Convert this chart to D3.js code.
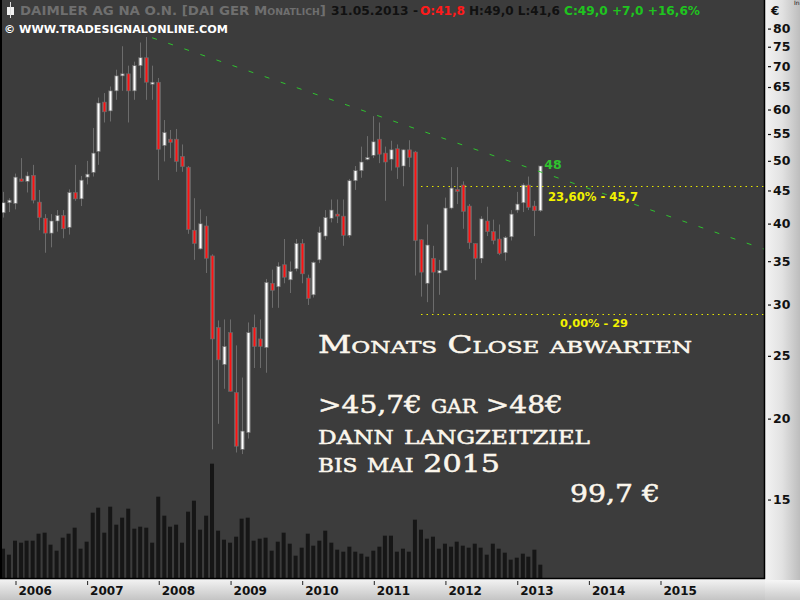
<!DOCTYPE html>
<html><head><meta charset="utf-8">
<script src="https://cdnjs.cloudflare.com/ajax/libs/d3/7.8.5/d3.min.js"></script>
<style>
html,body{margin:0;padding:0;background:#fff;}
svg{display:block;}
</style></head><body>
<svg id="c" width="800" height="600"></svg>
<script>
// ---------- DATA ----------
const months = ["2005-11","2005-12",
"2006-01","2006-02","2006-03","2006-04","2006-05","2006-06","2006-07","2006-08","2006-09","2006-10","2006-11","2006-12",
"2007-01","2007-02","2007-03","2007-04","2007-05","2007-06","2007-07","2007-08","2007-09","2007-10","2007-11","2007-12",
"2008-01","2008-02","2008-03","2008-04","2008-05","2008-06","2008-07","2008-08","2008-09","2008-10","2008-11","2008-12",
"2009-01","2009-02","2009-03","2009-04","2009-05","2009-06","2009-07","2009-08","2009-09","2009-10","2009-11","2009-12",
"2010-01","2010-02","2010-03","2010-04","2010-05","2010-06","2010-07","2010-08","2010-09","2010-10","2010-11","2010-12",
"2011-01","2011-02","2011-03","2011-04","2011-05","2011-06","2011-07","2011-08","2011-09","2011-10","2011-11","2011-12",
"2012-01","2012-02","2012-03","2012-04","2012-05","2012-06","2012-07","2012-08","2012-09","2012-10","2012-11","2012-12",
"2013-01","2013-02","2013-03","2013-04","2013-05"];
const open  = [41.5,43.0, 42.9,46.8,46.4,47.4,43.1,40.7,38.6,40.3,41.1,39.4,44.6,43.6,
 47.1,47.9,51.6,61.5,59.6,64.0,67.5,68.0,64.0,70.0,72.0,66.0,
 66.0,52.7,53.9,53.9,50.7,48.8,39.0,36.5,39.6,35.6,27.6,24.2,
 27.1,21.9,17.9,19.0,27.6,26.5,25.7,32.3,31.9,34.5,32.7,34.0,
 37.2,32.9,31.0,35.1,38.2,40.7,41.3,41.0,38.3,46.5,48.2,50.3,
 50.9,53.9,51.3,50.2,52.1,49.0,51.9,51.5,37.7,32.3,35.3,33.5,
 33.8,42.2,45.1,45.8,42.5,37.2,35.3,40.3,38.8,37.8,36.0,38.1,
 41.9,43.0,45.8,42.5,41.8];
const high  = [44.7,43.7, 47.7,50.4,48.0,49.2,45.0,41.3,41.3,41.9,41.9,45.1,49.2,47.3,
 49.9,56.1,62.5,63.5,65.0,69.0,75.0,70.0,71.0,76.0,77.5,70.0,
 67.0,57.7,55.7,55.9,52.9,49.0,43.7,42.0,41.0,35.8,28.3,28.4,
 28.4,25.9,23.1,28.1,28.9,28.4,32.8,33.9,34.8,37.8,34.9,37.8,
 37.8,33.3,34.9,39.5,41.9,43.5,43.5,43.5,46.8,49.0,52.5,54.5,
 58.5,57.2,52.5,53.6,52.9,52.0,53.7,51.7,37.8,39.8,36.9,35.1,
 43.8,48.8,48.8,46.4,42.8,37.2,41.0,42.4,40.5,39.8,38.2,41.9,
 44.7,46.1,47.2,43.3,49.0];
const low   = [40.8,41.6, 42.0,46.3,44.6,42.9,39.0,36.0,36.7,38.8,37.9,38.4,43.3,42.5,
 45.9,47.2,49.2,57.2,57.4,62.0,64.0,57.2,62.0,67.0,62.0,62.0,
 46.6,49.8,50.4,48.0,48.0,38.5,35.1,36.4,33.5,17.9,19.6,22.2,
 22.0,17.7,17.6,18.6,23.9,23.9,23.5,29.6,29.6,32.3,31.2,33.7,
 32.3,29.9,30.7,34.7,37.7,40.1,40.0,36.9,38.0,45.0,47.0,50.0,
 50.4,49.5,43.3,48.2,46.8,45.6,48.8,33.2,30.8,30.2,29.1,31.0,
 33.8,42.0,42.8,39.2,36.5,32.7,34.7,38.2,37.1,35.7,35.0,37.6,
 41.5,41.6,41.9,38.2,41.6];
const close = [43.0,43.4, 47.1,46.4,47.3,43.4,40.8,38.6,40.3,41.1,39.2,44.6,43.6,46.6,
 47.6,51.3,61.3,59.4,64.0,67.5,68.0,64.0,70.0,72.0,66.0,66.0,
 52.0,55.2,53.3,49.8,48.9,39.1,37.2,39.9,35.3,26.5,24.6,25.8,
 22.0,18.1,19.1,27.1,25.8,25.8,32.4,31.5,34.3,33.0,33.7,37.2,
 33.4,30.6,34.8,38.7,40.8,41.9,41.0,38.3,46.5,48.2,49.7,50.5,
 53.4,51.1,49.7,51.9,48.8,51.9,50.5,37.6,33.6,37.0,33.6,33.8,
 42.2,45.3,44.8,41.7,37.3,35.3,40.6,38.8,37.6,35.9,38.0,41.3,
 42.8,45.8,42.3,41.8,49.0];
const volume = [88,70,112,106,112,112,133,136,100,82,121,133,151,88,109,196,211,136,214,160,181,208,148,154,151,106,
 244,187,154,160,106,199,232,145,187,343,142,115,106,124,178,181,112,118,121,82,109,136,103,67,91,133,97,112,142,106,
 85,79,94,79,73,64,82,94,127,127,79,88,79,175,145,118,124,88,103,94,109,97,91,103,91,70,103,88,76,55,61,73,64,85,40];
const priceTicks = [15,20,25,30,35,40,45,50,55,60,65,70,75,80];
const yearTicks = ["2006","2007","2008","2009","2010","2011","2012","2013","2014","2015"];
// trendline anchors (month, price)
const trendStart = ["2007-12", 77.3];
const trendEnd   = ["2013-05", 48.0];
// Fibonacci retracement
const fibLow = 29, fibHigh = 99.7, fibLevels = [0, 0.236];
const fibStart = "2011-09";

// ---------- SETUP ----------
const W = 800, H = 600;
const P = {l:2, r:764, t:0, b:578};
const svg = d3.select("#c");
const parse = d3.timeParse("%Y-%m");
const data = months.map((m,i)=>({d:parse(m),o:open[i],h:high[i],l:low[i],c:close[i],v:volume[i]}));

const x = d3.scaleTime().domain([new Date(2006,0,1), new Date(2015,0,1)]).range([15,660]);
const y = d3.scaleLog().domain([11.33, 88.4]).range([P.b, P.t]);
const yv = d3.scaleLinear().domain([0,600]).range([P.b, P.b-200]);

const defs = svg.append("defs");
function hgrad(id, stops){
  const g = defs.append("linearGradient").attr("id",id).attr("x1","0").attr("x2","1").attr("y1","0").attr("y2","0");
  stops.forEach(s=>g.append("stop").attr("offset",s[0]).attr("stop-color",s[1]));
}
function vgrad(id, stops){
  const g = defs.append("linearGradient").attr("id",id).attr("x1","0").attr("x2","0").attr("y1","0").attr("y2","1");
  stops.forEach(s=>g.append("stop").attr("offset",s[0]).attr("stop-color",s[1]));
}
hgrad("up",[["0","#7a7a7a"],["0.5","#ffffff"],["1","#7a7a7a"]]);
hgrad("dn",[["0","#7a7a7a"],["0.5","#ff1010"],["1","#7a7a7a"]]);
hgrad("raxis",[["0","#f4f4f4"],["0.5","#e2e2e2"],["1","#bdbdbd"]]);
vgrad("baxis",[["0","#f6f6f6"],["1","#c4c4c4"]]);
const clip = defs.append("clipPath").attr("id","plotclip");
clip.append("rect").attr("x",P.l).attr("y",P.t).attr("width",P.r-P.l).attr("height",P.b-P.t);

// background
svg.append("rect").attr("width",W).attr("height",H).attr("fill","#d8d8d8");
svg.append("rect").attr("x",P.r).attr("y",0).attr("width",W-P.r).attr("height",P.b+2).attr("fill","url(#raxis)");
svg.append("rect").attr("x",0).attr("y",P.b).attr("width",P.r+1).attr("height",H-P.b).attr("fill","url(#baxis)");
svg.append("rect").attr("x",P.r+1).attr("y",P.b+2).attr("width",W-P.r).attr("height",H-P.b).attr("fill","url(#baxis)");
svg.append("rect").attr("x",P.l).attr("y",P.t).attr("width",P.r-P.l).attr("height",P.b-P.t).attr("fill","#3c3c3c");

const plot = svg.append("g").attr("clip-path","url(#plotclip)");

// volume
plot.append("g").selectAll("rect").data(data).join("rect")
  .attr("x",d=>x(d.d)-2).attr("width",4)
  .attr("y",d=>yv(d.v)).attr("height",d=>yv(0)-yv(d.v))
  .attr("fill","#161616");

// wicks
plot.append("g").selectAll("line").data(data).join("line")
  .attr("x1",d=>Math.round(x(d.d))+0.5).attr("x2",d=>Math.round(x(d.d))+0.5)
  .attr("y1",d=>y(d.h)).attr("y2",d=>y(d.l))
  .attr("stroke","#6c6c6c").attr("stroke-width",1);
// bodies
plot.append("g").selectAll("rect").data(data).join("rect")
  .attr("x",d=>Math.round(x(d.d))-1.5).attr("width",4)
  .attr("y",d=>y(Math.max(d.o,d.c)))
  .attr("height",d=>Math.max(2, Math.abs(y(d.o)-y(d.c))))
  .attr("fill",d=>d.c>=d.o?"url(#up)":"url(#dn)")
  .attr("stroke","#6a6a6a").attr("stroke-width",0.6);

// trendline
const t0 = [parse(trendStart[0]), trendStart[1]], t1=[parse(trendEnd[0]), trendEnd[1]];
const slope = (Math.log(t1[1])-Math.log(t0[1]))/(t1[0]-t0[0]);
const tEnd = x.invert(P.r);
const tEndV = Math.exp(Math.log(t0[1]) + slope*(tEnd-t0[0]));
plot.append("line")
  .attr("x1",x(t0[0])).attr("y1",y(t0[1])).attr("x2",x(tEnd)).attr("y2",y(tEndV))
  .attr("stroke","#2fc22f").attr("stroke-width",1).attr("stroke-dasharray","5,12");

// fib lines
const fibVals = fibLevels.map(f=>fibLow + f*(fibHigh-fibLow));
plot.append("g").selectAll("line").data(fibVals).join("line")
  .attr("x1",x(parse(fibStart))).attr("x2",P.r)
  .attr("y1",d=>Math.round(y(d))+0.5).attr("y2",d=>Math.round(y(d))+0.5)
  .attr("stroke","#e8e800").attr("stroke-width",1).attr("stroke-dasharray","1.5,4");

// frame
svg.append("line").attr("x1",P.l-1).attr("x2",P.l-1).attr("y1",0).attr("y2",P.b+1).attr("stroke","#000").attr("stroke-width",2);
svg.append("line").attr("x1",P.r+0.5).attr("x2",P.r+0.5).attr("y1",0).attr("y2",P.b+1).attr("stroke","#000").attr("stroke-width",1.5);
svg.append("line").attr("x1",0).attr("x2",P.r+1).attr("y1",P.b+0.5).attr("y2",P.b+0.5).attr("stroke","#000").attr("stroke-width",1.5);

// right axis
const ra = d3.axisRight(y).tickValues(priceTicks).tickSize(0).tickFormat(d=>d);
const rg = svg.append("g").attr("transform",`translate(${P.r},0)`).call(ra);
rg.select(".domain").remove();
rg.selectAll(".tick text").attr("x",9).attr("dy","0.35em")
  .attr("font-family","DejaVu Sans").attr("font-weight","bold").attr("font-size",12.5).attr("fill","#111")
  .attr("text-anchor","start");
rg.selectAll(".tick").append("line").attr("x1",4).attr("x2",7).attr("y1",0.5).attr("y2",0.5).attr("stroke","#111").attr("stroke-width",1.2);
svg.append("text").attr("x",771).attr("y",15).text("€").attr("font-family","DejaVu Sans").attr("font-weight","bold").attr("font-size",12).attr("fill","#111");
svg.append("text").attr("x",794).attr("y",5).text("In").attr("font-family","DejaVu Sans").attr("font-size",6).attr("fill","#111");

// bottom axis
const ba = d3.axisBottom(x).tickValues(yearTicks.map(s=>new Date(+s,0,1))).tickSize(4).tickFormat(d3.timeFormat("%Y"));
const bg = svg.append("g").attr("transform",`translate(0,${P.b+3})`).call(ba);
bg.select(".domain").remove();
bg.selectAll(".tick line").attr("stroke","#222").attr("transform","translate(0.5,0)");
bg.selectAll(".tick text").attr("text-anchor","start").attr("x",3).attr("y",5).attr("dy","0.75em")
  .attr("font-family","DejaVu Sans").attr("font-weight","bold").attr("font-size",12).attr("fill","#111");

// header
const hdr = svg.append("g").attr("font-family","DejaVu Sans").attr("font-weight","bold").attr("font-size",11.5);
hdr.append("rect").attr("x",7).attr("y",7).attr("width",7).attr("height",8).attr("fill","#f0f0f0");
hdr.append("line").attr("x1",10.5).attr("x2",10.5).attr("y1",2).attr("y2",18).attr("stroke","#ddd");
function seg(x0, x1, txt, col, sc){
  const t = hdr.append("text").attr("x",x0).attr("y",15).attr("fill",col)
    .attr("textLength",x1-x0).attr("lengthAdjust","spacingAndGlyphs");
  if(sc){ t.append("tspan").text(txt[0]); t.append("tspan").attr("font-variant","small-caps").text(txt[1]); t.append("tspan").text(txt[2]); }
  else t.text(txt);
}
seg(20, 326, ["DAIMLER AG NA O.N. [DAI GER  ","Monatlich","]"], "#6f6f6f", true);
seg(331, 418, "31.05.2013 -", "#111", false);
seg(420, 465, "O:41,8", "#ff1a1a", false);
seg(469, 560, "H:49,0 L:41,6", "#111", false);
seg(564, 700, "C:49,0 +7,0 +16,6%", "#1fc41f", false);
svg.append("text").attr("x",4).attr("y",33).text("© WWW.TRADESIGNALONLINE.COM")
  .attr("font-family","DejaVu Sans").attr("font-weight","bold").attr("font-size",10).attr("fill","#fff")
  .attr("textLength",224).attr("lengthAdjust","spacingAndGlyphs");

// labels
const lastD = data[data.length-1];
svg.append("text").attr("x",x(lastD.d)+4).attr("y",y(trendEnd[1])-3).text(String(trendEnd[1].toFixed(0)))
  .attr("font-family","DejaVu Sans").attr("font-weight","bold").attr("font-size",12.5).attr("fill","#2fc22f");
const fmt = v=>v.toFixed(1).replace(".",",");
svg.append("text").attr("x",548).attr("y",y(fibVals[1])+15).text("23,60% - "+fmt(fibVals[1]))
  .attr("font-family","DejaVu Sans").attr("font-weight","bold").attr("font-size",12).attr("fill","#f2f200")
  .attr("textLength",90).attr("lengthAdjust","spacingAndGlyphs");
svg.append("text").attr("x",560).attr("y",y(fibVals[0])+13).text("0,00% - "+fibVals[0])
  .attr("font-family","DejaVu Sans").attr("font-weight","bold").attr("font-size",11).attr("fill","#f2f200")
  .attr("textLength",68).attr("lengthAdjust","spacingAndGlyphs");

// annotation text
const ann = svg.append("g").attr("font-family","DejaVu Serif").attr("fill","#fbf6ec").attr("font-size",24)
  .attr("stroke","#fbf6ec").attr("stroke-width",0.5);
function annTxt(x0,yb,len,parts,fs){
  const t = ann.append("text").attr("x",x0).attr("y",yb).attr("textLength",len).attr("lengthAdjust","spacingAndGlyphs");
  if(fs) t.attr("font-size",fs);
  parts.forEach(p=>{ const s=t.append("tspan").text(p[0]); if(p[1]) s.attr("font-variant","small-caps"); });
}
annTxt(318,353,374,[["Monats Close abwarten",true]]);
annTxt(318,413,245,[[">45,7€  ",false],["gar",true],[" >48€",false]],25);
annTxt(318,444,272,[["dann langzeitziel",true]],25);
annTxt(318,472,182,[["bis mai ",true],["2015",false]],25);
annTxt(570,502,90,[["99,7 €",false]],25);
</script>
</body></html>
